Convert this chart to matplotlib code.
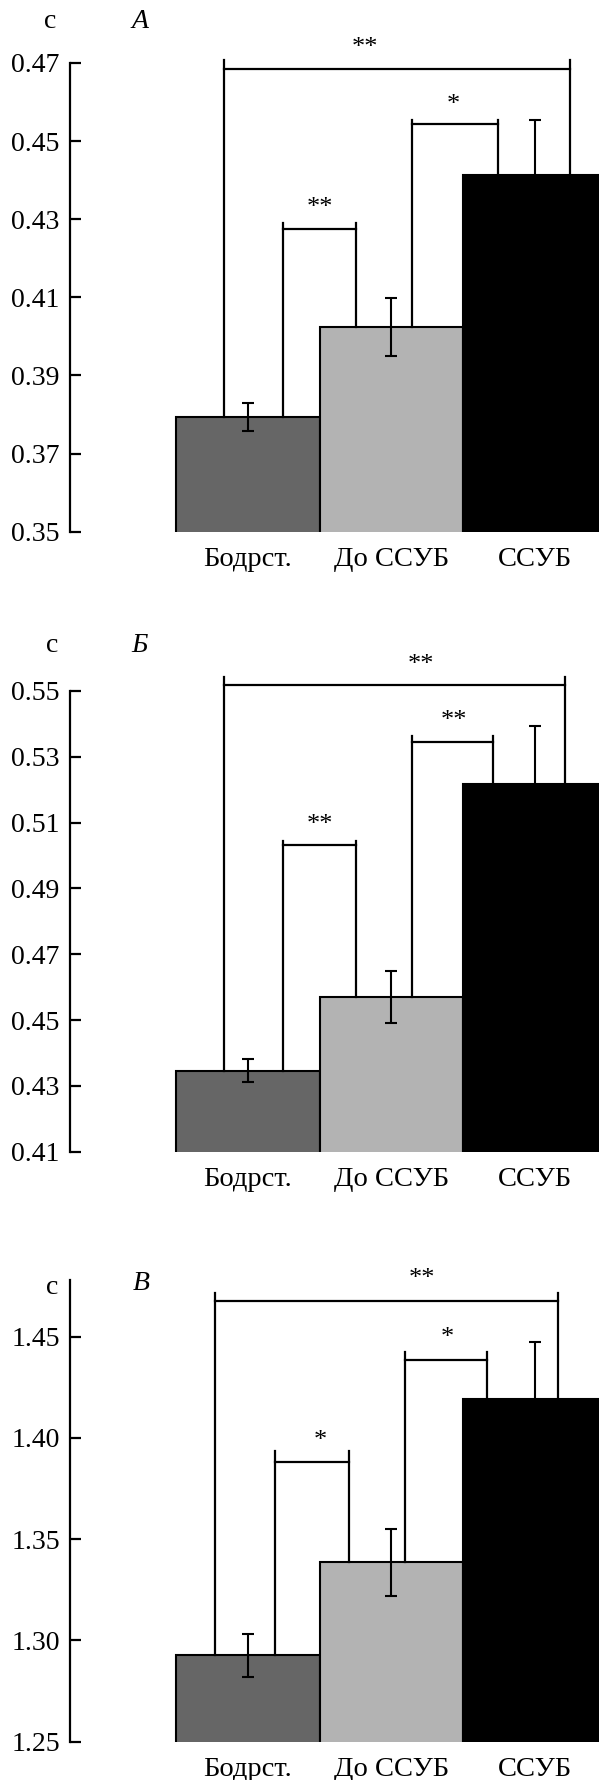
import matplotlib
matplotlib.use("Agg")
import matplotlib.pyplot as plt

plt.rcParams['font.family'] = ['Liberation Serif', 'DejaVu Serif']

groups = ['Бодрст.', 'До ССУБ', 'ССУБ']
colors = ['#666666', '#b3b3b3', '#000000']

means_a = [0.3794, 0.4025, 0.4412]
err_a = [0.0036, 0.0074, 0.0143]
ticks_a = [0.35, 0.37, 0.39, 0.41, 0.43, 0.45, 0.47]

means_b = [0.4346, 0.4570, 0.5218]
err_b = [0.0035, 0.0079, 0.0176]
ticks_b = [0.41, 0.43, 0.45, 0.47, 0.49, 0.51, 0.53, 0.55]

means_v = [1.2927, 1.3385, 1.4192]
err_v = [0.0106, 0.0167, 0.0282]
ticks_v = [1.25, 1.30, 1.35, 1.40, 1.45]

# significance brackets: (bar i, bar j, x left, x right, line level, leg top, label, label x, label y)
sig_a = [(0, 2, -0.163, 2.248, 0.46845, 0.4707, '**', 0.818, 0.4739),
         (0, 1, 0.248, 0.757, 0.4276, 0.4290, '**', 0.50, 0.4330),
         (1, 2, 1.145, 1.741, 0.4543, 0.4555, '*', 1.434, 0.4592)]
sig_b = [(0, 2, -0.167, 2.209, 0.5518, 0.5542, '**', 1.209, 0.5579),
         (0, 1, 0.249, 0.757, 0.5031, 0.5045, '**', 0.503, 0.5094),
         (1, 2, 1.143, 1.712, 0.5345, 0.5362, '**', 1.439, 0.5408)]
sig_v = [(0, 2, -0.231, 2.161, 1.4674, 1.4715, '**', 1.215, 1.4784),
         (0, 1, 0.191, 0.703, 1.3882, 1.3935, '*', 0.508, 1.3984),
         (1, 2, 1.095, 1.665, 1.4387, 1.4424, '*', 1.393, 1.4496)]

W, H = 599, 1780
fig = plt.figure(figsize=(W / 100, H / 100), dpi=100)

x0_px, x1_px = 69.5, 599
bar_left_px, bar_w_px = 176, 143.5
xlim = (-0.5 - (bar_left_px - x0_px) / bar_w_px, -0.5 + (x1_px - bar_left_px) / bar_w_px)


def make_ax(top_px, bot_px):
    return fig.add_axes([x0_px / W, 1 - bot_px / H, (x1_px - x0_px) / W, (bot_px - top_px) / H])


def panel(ax, means, errs, ticks, ylim, sig):
    xs = range(len(means))
    ax.bar(xs, means, width=1.0, color=colors, edgecolor='black', linewidth=1.5, zorder=2)
    ax.errorbar(xs, means, yerr=errs, fmt='none', ecolor='black', elinewidth=1.5,
                capsize=4, capthick=1.5, zorder=3)
    for i, j, xl, xr, yl, yt, lab, tx, ty in sig:
        ax.plot([xl, xl], [means[i], yt], color='black', lw=1.6, clip_on=False, zorder=4)
        ax.plot([xr, xr], [means[j], yt], color='black', lw=1.6, clip_on=False, zorder=4)
        ax.plot([xl, xr], [yl, yl], color='black', lw=1.6, clip_on=False, zorder=4)
        ax.text(tx, ty, lab, ha='center', va='center', fontsize=19, clip_on=False)
    ax.set_xlim(*xlim)
    ax.set_ylim(*ylim)
    ax.set_yticks(ticks)
    ax.set_yticklabels(['%.2f' % t for t in ticks])
    ax.set_xticks(list(xs))
    ax.set_xticklabels(groups)
    ax.tick_params(axis='y', direction='in', length=8, width=1.6, labelsize=20, pad=7)
    ax.tick_params(axis='x', length=0, labelsize=20.5, pad=11)
    for s in ['top', 'right', 'bottom']:
        ax.spines[s].set_visible(False)
    ax.spines['left'].set_linewidth(1.6)


ax_a = make_ax(63, 531.7)
panel(ax_a, means_a, err_a, ticks_a, (0.35, 0.47), sig_a)
ax_b = make_ax(691, 1151.7)
panel(ax_b, means_b, err_b, ticks_b, (0.41, 0.55), sig_b)
ax_v = make_ax(1280, 1741.7)
panel(ax_v, means_v, err_v, ticks_v, (1.25, 1.478), sig_v)

for (cx, cy), (lx, ly), letter in [((50, 22), (140, 22), 'A'),
                                   ((52, 646), (140, 646), 'Б'),
                                   ((52, 1287), (141, 1283), 'В')]:
    fig.text(cx / W, 1 - cy / H, 'c', ha='center', va='center', fontsize=20)
    fig.text(lx / W, 1 - ly / H, letter, ha='center', va='center', fontsize=20,
             style='italic')

fig.savefig('out.png', dpi=100)
